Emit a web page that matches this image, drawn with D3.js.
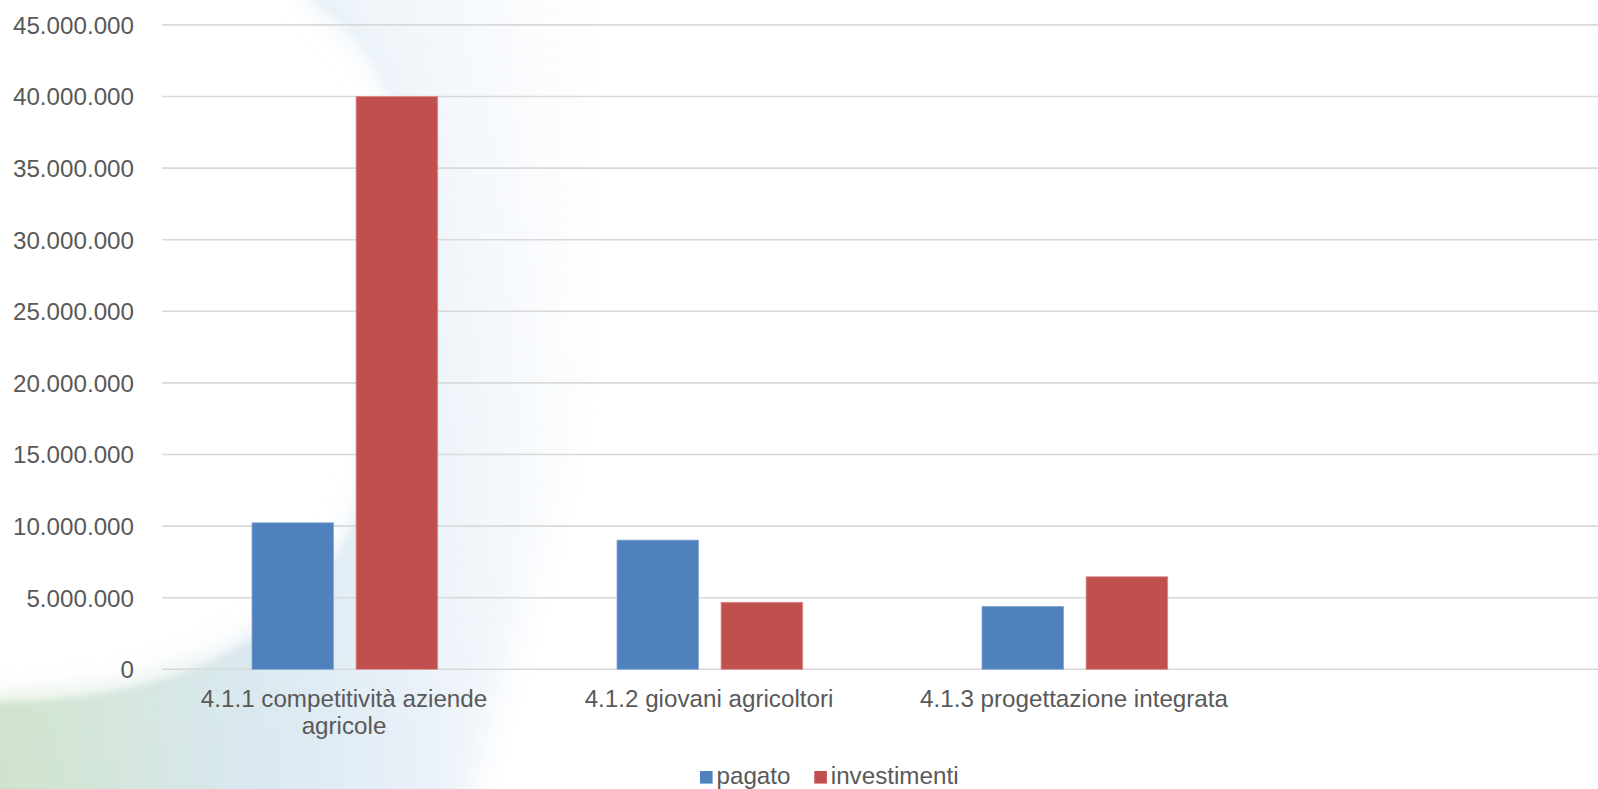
<!DOCTYPE html>
<html>
<head>
<meta charset="utf-8">
<script src="https://cdn.jsdelivr.net/npm/d3@7"></script>
<style>
  html, body { margin: 0; padding: 0; background: #ffffff; overflow: hidden; }
  svg { display: block; }
  text { font-family: "Liberation Sans", Arial, sans-serif; }
</style>
</head>
<body>
<svg id="chart" width="1598" height="789"></svg>
<script>
// ---- data ----
const categories = ["4.1.1 competitività aziende agricole", "4.1.2 giovani agricoltori", "4.1.3 progettazione integrata", ""];
const seriesNames = ["pagato", "investimenti"];
const pagato = [10230000, 9020000, 4390000, null];
const investimenti = [40000000, 4680000, 6460000, null];
const yTicks = [0, 5000000, 10000000, 15000000, 20000000, 25000000, 30000000, 35000000, 40000000, 45000000];
const seriesColors = ["#4f81bd", "#c0504d"];
const seriesStroke = ["#86a8d6", "#dc8a88"];

const svg = d3.select("#chart");
const W = 1598, H = 789;

// ---- background swoosh ----
const defs = svg.append("defs");
const gBlue = defs.append("linearGradient").attr("id", "gBlue")
  .attr("gradientUnits", "userSpaceOnUse").attr("x1", 0).attr("y1", 0).attr("x2", 600).attr("y2", 0);
[[0, "#cfe3cc"], [0.2, "#d4e6dd"], [0.42, "#d9e8f0"], [0.62, "#e4eef7"], [0.82, "#f2f6fb"], [1, "#ffffff"]]
  .forEach(([o, c]) => gBlue.append("stop").attr("offset", o).attr("stop-color", c));
const gFade = defs.append("linearGradient").attr("id", "gFade")
  .attr("gradientUnits", "userSpaceOnUse").attr("x1", 0).attr("y1", 0).attr("x2", 0).attr("y2", 789);
gFade.append("stop").attr("offset", 0).attr("stop-color", "#ffffff").attr("stop-opacity", 0.45);
gFade.append("stop").attr("offset", 0.55).attr("stop-color", "#ffffff").attr("stop-opacity", 0.12);
gFade.append("stop").attr("offset", 1).attr("stop-color", "#ffffff").attr("stop-opacity", 0);
const blur = defs.append("filter").attr("id", "soft").attr("x", "-10%").attr("y", "-10%").attr("width", "120%").attr("height", "120%");
blur.append("feGaussianBlur").attr("stdDeviation", 3);
const blurR = defs.append("filter").attr("id", "softR").attr("x", "-20%").attr("y", "-10%").attr("width", "140%").attr("height", "120%");
blurR.append("feGaussianBlur").attr("stdDeviation", 16);

const leftEdge = "M-60,706 L0,703 C 150,700 265,660 335,560 C 410,440 425,220 392,100 C 370,45 340,20 313,0 L 300,-40 ";
const swoosh = leftEdge + "L 620,-40 C 610,200 600,380 565,480 C 530,600 495,700 460,840 L -60,840 Z";
const bg = svg.append("g");
bg.append("path").attr("d", swoosh).attr("fill", "url(#gBlue)").attr("filter", "url(#softR)");
bg.append("path")
  .attr("d", leftEdge + "L 470,-40 C 470,300 450,560 360,840 L -60,840 Z")
  .attr("fill", "url(#gBlue)").attr("filter", "url(#soft)");
bg.append("path").attr("d", swoosh).attr("fill", "url(#gFade)").attr("filter", "url(#softR)");

// ---- scales ----
const y = d3.scaleLinear().domain([0, 45000000]).range([669.3, 24.9]);
const x0 = d3.scaleBand().domain(categories).range([161.5, 1621.5]).paddingInner(0).paddingOuter(0);
const x1 = d3.scaleBand().domain(seriesNames).range([90.5, 276.2]).paddingInner(0.216).paddingOuter(0);

const itLocale = d3.formatLocale({ decimal: ",", thousands: ".", grouping: [3], currency: ["€", ""] });
const fmt = itLocale.format(",.0f");

// ---- gridlines ----
const grid = svg.append("g");
grid.selectAll("line").data(yTicks).join("line")
  .attr("x1", 162).attr("x2", 1621.5)
  .attr("y1", d => y(d)).attr("y2", d => y(d))
  .attr("stroke", "#d9d9d9").attr("stroke-width", 1.6);

// ---- y axis labels ----
const yAxis = d3.axisLeft(y).tickValues(yTicks).tickFormat(fmt).tickSize(0).tickPadding(0);
const ya = svg.append("g").attr("transform", "translate(134,0)").call(yAxis);
ya.select(".domain").remove();
ya.selectAll("text")
  .attr("font-size", 24.2).attr("fill", "#595959")
  .attr("font-family", "'Liberation Sans', Arial, sans-serif")
  .attr("dy", "0.35em");

// ---- bars ----
const table = categories.map((c, i) => ({ cat: c, vals: [pagato[i], investimenti[i]] }));
const groups = svg.append("g").selectAll("g").data(table).join("g")
  .attr("transform", d => `translate(${x0(d.cat)},0)`);
groups.selectAll("rect")
  .data(d => d.vals.map((v, k) => ({ k, v })).filter(e => e.v != null))
  .join("rect")
  .attr("x", e => x1(seriesNames[e.k]))
  .attr("width", x1.bandwidth())
  .attr("y", e => y(e.v))
  .attr("height", e => y(0) - y(e.v))
  .attr("fill", e => seriesColors[e.k])
  .attr("stroke", e => seriesStroke[e.k])
  .attr("stroke-width", 0.8);

// ---- category labels ----
const xAxis = d3.axisBottom(x0).tickSize(0).tickPadding(0);
const xa = svg.append("g").attr("transform", `translate(0,${y(0)})`).call(xAxis);
xa.select(".domain").remove();
xa.selectAll("text")
  .attr("font-size", 24.2).attr("fill", "#595959")
  .attr("font-family", "'Liberation Sans', Arial, sans-serif")
  .attr("dy", null).attr("y", 0)
  .each(function (d) {
    const t = d3.select(this);
    const words = d.split(/\s+/).filter(w => w.length);
    t.text(null);
    const maxW = x0.bandwidth() - 10;
    let line = [];
    let lines = [];
    const probe = t.append("tspan");
    words.forEach(w => {
      const test = line.concat([w]).join(" ");
      probe.text(test);
      if (probe.node().getComputedTextLength() > maxW && line.length) {
        lines.push(line.join(" "));
        line = [w];
      } else {
        line.push(w);
      }
    });
    if (line.length) lines.push(line.join(" "));
    probe.remove();
    lines.forEach((l, i) => {
      t.append("tspan").attr("x", 0).attr("y", 37.4 + i * 27.5).text(l);
    });
  });

// ---- legend ----
const legend = svg.append("g");
const legendX = [700, 814.3];
seriesNames.forEach((s, k) => {
  legend.append("rect")
    .attr("x", legendX[k]).attr("y", 771)
    .attr("width", 12.6).attr("height", 12.6)
    .attr("fill", seriesColors[k]);
  legend.append("text")
    .attr("x", legendX[k] + 16.5).attr("y", 783.5)
    .attr("font-size", 24.2).attr("fill", "#595959")
    .text(s);
});
</script>
</body>
</html>
